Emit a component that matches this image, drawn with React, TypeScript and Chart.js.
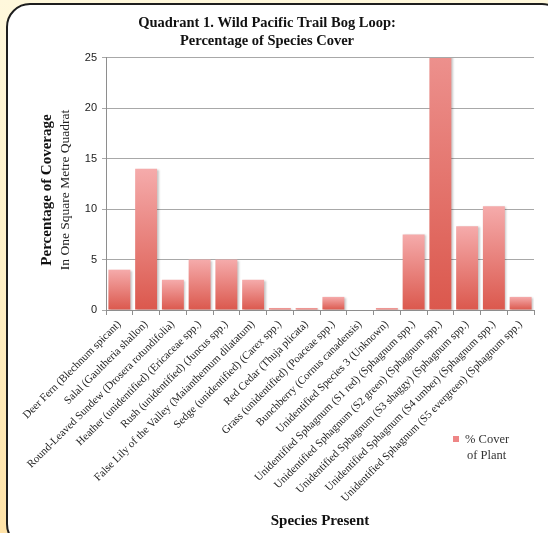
import React, { useEffect, useRef } from "react";
import { Chart, registerables } from "chart.js";

Chart.register(...registerables);

const categories: string[] = [
  "Deer Fern (Blechnum spicant)",
  "Salal (Gaultheria shallon)",
  "Round-Leaved Sundew (Drosera rotundifolia)",
  "Heather (unidentified) (Ericaceae spp.)",
  "Rush (unidentified) (Juncus spp.)",
  "False Lily of the Valley (Maianthemum dilatatum)",
  "Sedge (unidentified) (Carex spp.)",
  "Red Cedar (Thuja plicata)",
  "Grass (unidentified) (Poaceae spp.)",
  "Bunchberry (Cornus canadensis)",
  "Unidentified Species 3 (Unknown)",
  "Unidentified Sphagnum (S1 red) (Sphagnum spp.)",
  "Unidentified Sphagnum (S2 green) (Sphagnum spp.)",
  "Unidentified Sphagnum (S3 shaggy) (Sphagnum spp.)",
  "Unidentified Sphagnum (S4 umber) (Sphagnum spp.)",
  "Unidentified Sphagnum (S5 evergreen) (Sphagnum spp.)",
];

const coverValues: number[] = [4, 14, 3, 5, 5, 3, 0.2, 0.2, 1.3, 0, 0.2, 7.5, 37, 8.3, 10.3, 1.3];

const seriesLabel = ["% Cover", "of Plant"];
const titleLines = ["Quadrant 1. Wild Pacific Trail Bog Loop:", "Percentage of Species Cover"];
const yTitleMain = "Percentage of Coverage";
const yTitleSub = "In One Square Metre Quadrat";
const xTitle = "Species Present";
const yTicks = { min: 0, max: 25, step: 5 };

const SERIF = "'Liberation Serif', 'DejaVu Serif', serif";
const SANS = "'Liberation Sans', 'DejaVu Sans', sans-serif";

export default function App() {
  const ref = useRef<HTMLCanvasElement | null>(null);

  useEffect(() => {
    if (!ref.current) return;

    const shadowPlugin = {
      id: "barShadow",
      beforeDatasetsDraw(chart: any) {
        const c = chart.ctx;
        c.save();
        c.shadowColor = "rgba(0,0,0,0.22)";
        c.shadowOffsetX = 1.5;
        c.shadowOffsetY = 1;
        c.shadowBlur = 2;
      },
      afterDatasetsDraw(chart: any) {
        chart.ctx.restore();
      },
    };

    const extrasPlugin = {
      id: "extras",
      afterDraw(chart: any) {
        const c = chart.ctx;
        const area = chart.chartArea;
        const midY = (area.top + area.bottom) / 2 + 6;
        c.save();
        c.fillStyle = "#111";
        c.textAlign = "center";
        c.textBaseline = "middle";
        c.translate(47, midY);
        c.rotate(-Math.PI / 2);
        c.font = `bold 15px ${SERIF}`;
        c.fillText(yTitleMain, 0, 0);
        c.restore();

        c.save();
        c.fillStyle = "#222";
        c.textAlign = "center";
        c.textBaseline = "middle";
        c.translate(65, midY);
        c.rotate(-Math.PI / 2);
        c.font = `13.5px ${SERIF}`;
        c.fillText(yTitleSub, 0, 0);
        c.restore();

        // legend
        const ds = chart.data.datasets[0];
        c.save();
        c.fillStyle = "#EE8686";
        c.fillRect(453, 436, 6, 6);
        c.fillStyle = "#333";
        c.font = `12.5px ${SERIF}`;
        c.textAlign = "left";
        c.textBaseline = "middle";
        const lines: string[] = ds.legendLines || [];
        c.fillText(lines[0], 465, 440);
        c.fillText(lines[1], 467, 456);
        c.restore();
      },
    };

    const chart = new Chart(ref.current, {
      type: "bar",
      data: {
        labels: categories,
        datasets: [
          {
            label: seriesLabel.join(" "),
            legendLines: seriesLabel,
            data: coverValues,
            backgroundColor: (ctx: any) => {
              const ch = ctx.chart;
              const ys = ch.scales && ch.scales.y;
              if (ctx.type !== "data" || !ch.chartArea || !ys) return "#E87070";
              const top = ys.getPixelForValue(ctx.raw);
              const base = ys.getPixelForValue(0);
              if (!isFinite(top) || !isFinite(base) || Math.abs(base - top) < 0.5) return "#EE8080";
              const g = ch.ctx.createLinearGradient(0, top, 0, base);
              g.addColorStop(0, "#F5ABAB");
              g.addColorStop(1, "#DB584D");
              return g;
            },
            borderWidth: 0,
            categoryPercentage: 1,
            barPercentage: 0.82,
          } as any,
        ],
      },
      options: {
        animation: false,
        responsive: false,
        maintainAspectRatio: false,
        layout: { padding: { top: 0, left: 0, right: 14, bottom: 0 } },
        plugins: {
          legend: { display: false },
          tooltip: { enabled: false },
          title: {
            display: true,
            text: titleLines,
            color: "#111",
            font: { family: SERIF, size: 14.5, weight: "bold", lineHeight: 1.24 },
            padding: { top: 14, bottom: 8 },
          },
        },
        scales: {
          x: {
            afterFit: (s: any) => {
              s.height = 223;
            },
            grid: {
              display: true,
              drawOnChartArea: false,
              drawTicks: true,
              tickLength: 5,
              color: "#8E8E8E",
              offset: true,
            },
            border: { color: "#8E8E8E" },
            ticks: {
              autoSkip: false,
              minRotation: 45,
              maxRotation: 45,
              padding: 3,
              color: "#222",
              font: { family: SERIF, size: 11 },
            },
            title: {
              display: true,
              text: xTitle,
              color: "#111",
              font: { family: SERIF, size: 15, weight: "bold", lineHeight: 1.2 },
              padding: { top: 0, bottom: 3 },
            },
          },
          y: {
            min: yTicks.min,
            max: yTicks.max,
            afterFit: (s: any) => {
              s.width = 106;
            },
            grid: {
              color: "#A8A8A8",
              lineWidth: 1,
              tickLength: 4,
            },
            border: { color: "#8E8E8E" },
            ticks: {
              stepSize: yTicks.step,
              padding: 5,
              color: "#222",
              font: { family: SANS, size: 11 },
            },
          },
        },
      },
      plugins: [shadowPlugin, extrasPlugin],
    } as any);

    return () => chart.destroy();
  }, []);

  return (
    <div
      style={{
        position: "fixed",
        left: 0,
        top: 0,
        width: 548,
        height: 533,
        overflow: "hidden",
        background: "linear-gradient(180deg, #FFF8DC 0%, #FFF1C8 50%, #FFE3A8 100%)",
      }}
    >
      <div
        style={{
          position: "absolute",
          left: 6,
          top: 3,
          width: 560,
          height: 545,
          boxSizing: "border-box",
          border: "2px solid #1E1E1E",
          borderRadius: 24,
          background: "#FFFFFF",
        }}
      />
      <canvas
        ref={ref}
        width={548}
        height={533}
        style={{ position: "absolute", left: 0, top: 0, width: 548, height: 533 }}
      />
    </div>
  );
}
